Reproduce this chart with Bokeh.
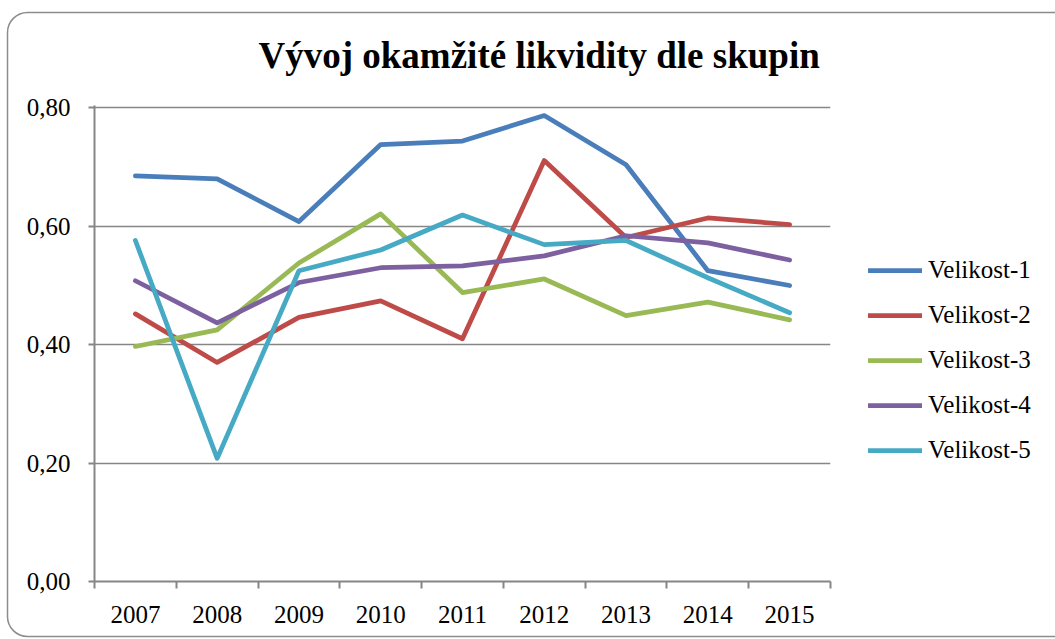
from bokeh.plotting import figure
from bokeh.models import (FactorRange, Range1d, LinearAxis, FixedTicker,
                          Legend, LegendItem)
from bokeh.embed import file_html
from bokeh.resources import INLINE

years = ["2007", "2008", "2009", "2010", "2011", "2012", "2013", "2014", "2015"]
velikost_1 = [0.685, 0.680, 0.608, 0.738, 0.744, 0.787, 0.704, 0.525, 0.500]
velikost_2 = [0.452, 0.370, 0.446, 0.474, 0.410, 0.711, 0.581, 0.614, 0.603]
velikost_3 = [0.397, 0.425, 0.538, 0.621, 0.488, 0.511, 0.449, 0.472, 0.442]
velikost_4 = [0.508, 0.437, 0.505, 0.530, 0.533, 0.550, 0.584, 0.572, 0.543]
velikost_5 = [0.576, 0.208, 0.525, 0.560, 0.619, 0.569, 0.576, 0.513, 0.454]
series_names = ["Velikost-1", "Velikost-2", "Velikost-3", "Velikost-4", "Velikost-5"]
colors = ["#4A7EBB", "#BE4B48", "#98B954", "#7D60A0", "#46AAC5"]
y_ticks = [0.0, 0.2, 0.4, 0.6, 0.8]
y_tick_labels = ["0,00", "0,20", "0,40", "0,60", "0,80"]
title_text = "Vývoj okamžité likvidity dle skupin"

FONT = "Liberation Serif"
GRAY = "#868686"

p = figure(frame_width=736, frame_height=476, output_backend="svg", toolbar_location=None,
           x_range=FactorRange(*years, range_padding=0), y_range=Range1d(0, 0.804),
           x_axis_location=None, y_axis_location=None,
           min_border_left=94, min_border_top=105, min_border_bottom=58, min_border_right=225)
p.outline_line_color = None
p.xgrid.grid_line_color = None
p.border_fill_color = None
p.background_fill_color = None

# rounded chart-area border drawn as the page background of the figure
border_svg = ("<svg xmlns='http://www.w3.org/2000/svg' width='1055' height='639'>"
              "<rect x='7.5' y='12.5' width='1100' height='624' rx='20' ry='20' "
              "fill='white' stroke='%238c8c8c' stroke-width='1.5'/></svg>")
p.styles = {"background-color": "white",
            "background-image": f"url(\"data:image/svg+xml;utf8,{border_svg}\")",
            "background-repeat": "no-repeat"}

# title
p.title.text = title_text
p.title.text_font = FONT
p.title.text_font_size = "37px"
p.title.text_font_style = "bold"
p.title.text_color = "black"
p.title.align = "left"
p.title.offset = 164
p.title.vertical_align = "bottom"
p.title.standoff = 59

# y axis
yaxis = LinearAxis(ticker=FixedTicker(ticks=y_ticks),
                   major_label_overrides={t: l for t, l in zip(y_ticks, y_tick_labels)})
yaxis.axis_line_color = GRAY
yaxis.axis_line_width = 2
yaxis.major_tick_line_color = GRAY
yaxis.major_tick_line_width = 2
yaxis.major_tick_out = 6
yaxis.major_tick_in = 0
yaxis.minor_tick_line_color = None
yaxis.major_label_standoff = 18
yaxis.major_label_text_font = FONT
yaxis.major_label_text_font_size = "25px"
yaxis.major_label_text_color = "black"
p.add_layout(yaxis, "left")

p.ygrid.ticker = FixedTicker(ticks=y_ticks)
p.ygrid.grid_line_color = GRAY
p.ygrid.grid_line_width = 1.5

# x axis on the categorical range: labels at category centres, tick marks at category edges
centres = [i + 0.5 for i in range(len(years))]
edges = [float(i) for i in range(len(years) + 1)]
xaxis = LinearAxis(ticker=FixedTicker(ticks=centres, minor_ticks=edges),
                   major_label_overrides={c: y for c, y in zip(centres, years)})
xaxis.axis_line_color = GRAY
xaxis.axis_line_width = 2
xaxis.major_tick_line_color = None
xaxis.major_tick_out = 0
xaxis.major_tick_in = 0
xaxis.minor_tick_line_color = GRAY
xaxis.minor_tick_line_width = 2
xaxis.minor_tick_out = 7
xaxis.minor_tick_in = 0
xaxis.major_label_standoff = 17
xaxis.major_label_text_font = FONT
xaxis.major_label_text_font_size = "25px"
xaxis.major_label_text_color = "black"
p.add_layout(xaxis, "below")

# lines
all_series = [velikost_1, velikost_2, velikost_3, velikost_4, velikost_5]
items = []
for name, vals, c in zip(series_names, all_series, colors):
    r = p.line(years, vals, line_color=c, line_width=4.75, line_cap="round", line_join="round")
    items.append(LegendItem(label=name, renderers=[r]))

legend = Legend(items=items, location="center_left")
legend.title = " "
legend.title_text_font_size = "20px"
legend.title_standoff = 11
legend.border_line_color = None
legend.background_fill_alpha = 0
legend.padding = 10
legend.margin = 38
legend.glyph_width = 54
legend.glyph_height = 26
legend.label_height = 26
legend.spacing = 17
legend.label_standoff = 6
legend.label_text_font = FONT
legend.label_text_font_size = "25px"
legend.label_text_color = "black"
p.add_layout(legend, "right")

open("out.html", "w").write(file_html(p, INLINE))
